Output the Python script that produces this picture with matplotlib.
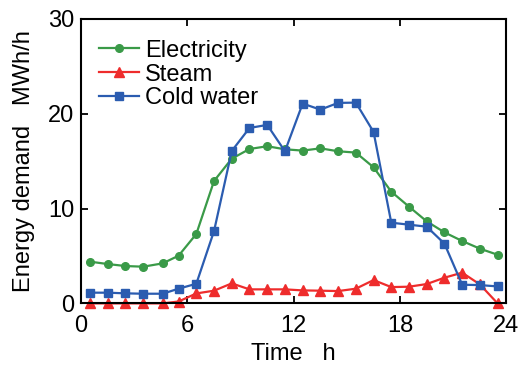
import matplotlib
matplotlib.use("Agg")
import matplotlib.pyplot as plt

hours = [0.5, 1.5, 2.5, 3.5, 4.6, 5.5, 6.5, 7.5, 8.5, 9.5, 10.5, 11.5,
         12.5, 13.5, 14.5, 15.5, 16.5, 17.5, 18.5, 19.5, 20.5, 21.5, 22.5, 23.5]
electricity = [4.40, 4.15, 3.94, 3.87, 4.22, 5.03, 7.32, 12.91, 15.26, 16.28, 16.57, 16.25,
               16.11, 16.35, 16.04, 15.90, 14.35, 11.78, 10.20, 8.65, 7.49, 6.58, 5.77, 5.13]
steam = [0.0, 0.0, 0.0, 0.0, 0.0, 0.2, 1.05, 1.34, 2.11, 1.48, 1.48, 1.48,
         1.37, 1.34, 1.30, 1.55, 2.46, 1.72, 1.76, 2.04, 2.71, 3.24, 2.0, 0.0]
cold_water = [1.13, 1.13, 1.06, 1.02, 1.02, 1.55, 2.07, 7.63, 16.07, 18.50, 18.82, 16.04,
              21.07, 20.43, 21.14, 21.17, 18.08, 8.51, 8.30, 8.09, 6.30, 1.97, 1.93, 1.79]
xticks = [0, 6, 12, 18, 24]
yticks = [0, 10, 20, 30]

plt.rcParams['font.family'] = ['Liberation Sans', 'DejaVu Sans']
fig = plt.figure(figsize=(5.2, 3.7), dpi=100)
ax = fig.add_axes([0.156, 0.180, 0.818, 0.769])

ax.plot(hours, electricity, color='#3a9a48', marker='o', ms=5.5, lw=1.6, label='Electricity', clip_on=False)
ax.plot(hours, steam, color='#ee2c2c', marker='^', ms=6.5, lw=1.6, label='Steam', clip_on=False)
ax.plot(hours, cold_water, color='#2b5cb0', marker='s', ms=6.3, lw=1.6, label='Cold water', clip_on=False)

ax.set_xlim(0, 24)
ax.set_ylim(0, 30)
ax.set_xticks(xticks)
ax.set_yticks(yticks)
ax.tick_params(direction='in', top=True, right=True, length=5, width=1.3, labelsize=17)
ax.tick_params(axis='x', pad=8)
ax.tick_params(axis='y', pad=5)
for s in ax.spines.values():
    s.set_linewidth(1.5)
ax.set_xlabel('Time   h', fontsize=17, labelpad=5)
ax.set_ylabel('Energy demand   MWh/h', fontsize=17, labelpad=9)

ax.legend(loc='upper left', frameon=False, fontsize=17, handlelength=1.7,
          handletextpad=0.25, labelspacing=0.08, borderaxespad=0.0, bbox_to_anchor=(0.02, 0.96))

fig.savefig('out.png', dpi=100)
